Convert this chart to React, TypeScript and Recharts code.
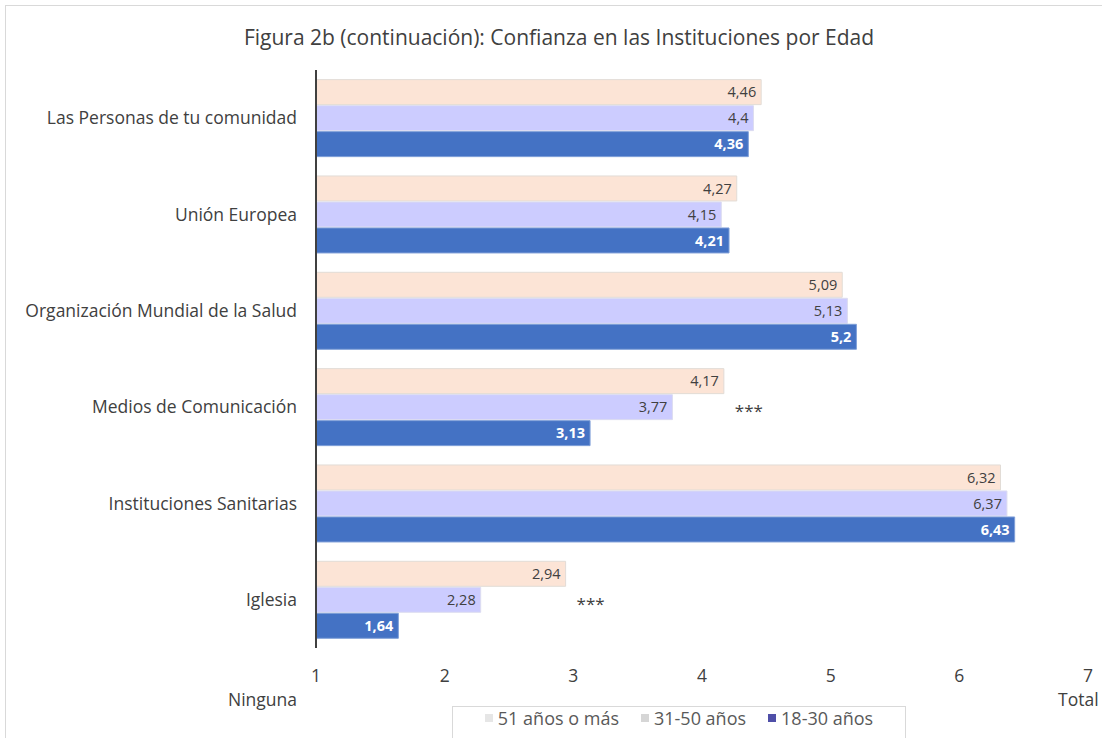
import React from "react";
import { BarChart, Bar, XAxis, YAxis, LabelList } from "recharts";

const categories = [
  "Las Personas de tu comunidad",
  "Unión Europea",
  "Organización Mundial de la Salud",
  "Medios de Comunicación",
  "Instituciones Sanitarias",
  "Iglesia",
];
const age51 = [4.46, 4.27, 5.09, 4.17, 6.32, 2.94];
const age31 = [4.4, 4.15, 5.13, 3.77, 6.37, 2.28];
const age18 = [4.36, 4.21, 5.2, 3.13, 6.43, 1.64];
const significance = ["", "", "", "***", "", "***"];
const xTicks = [1, 2, 3, 4, 5, 6, 7];

const seriesNames = ["51 años o más", "31-50 años", "18-30 años"];
const seriesColors = ["#FCE4D6", "#CCCCFF", "#4472C4"];
const legendIconColors = ["#e6e6e6", "#d6d6d6", "#4F4FA8"];

const data = categories.map((name, i) => ({
  name,
  a51: age51[i],
  a31: age31[i],
  a18: age18[i],
  sig: significance[i],
}));

const FONT = "'Open Sans', sans-serif";
const fmt = (v: any) => String(v).replace(".", ",");

const SigLabel = (props: any) => {
  const { x, y, width, height, index } = props;
  const s = significance[index];
  if (!s) return null;
  const cy = y + height + 1 + height / 2;
  return (
    <text x={x + width + 11} y={cy + 10} fontSize={17} fill="#404040" fontFamily={FONT}>
      {s}
    </text>
  );
};

export default function App() {
  return (
    <div
      style={{
        position: "absolute",
        left: 0,
        top: 0,
        width: 1102,
        height: 738,
        overflow: "hidden",
        background: "#fff",
        fontFamily: FONT,
      }}
    >
      <div
        style={{
          position: "absolute",
          left: 5,
          top: 5,
          width: 1120,
          height: 760,
          border: "1px solid #d9d9d9",
          boxSizing: "border-box",
        }}
      />
      <div
        style={{
          position: "absolute",
          left: 0,
          width: 1118,
          top: 22,
          textAlign: "center",
          fontSize: 21,
          color: "#404040",
          lineHeight: "30px",
        }}
      >
        Figura 2b (continuación): Confianza en las Instituciones por Edad
      </div>
      <div style={{ position: "absolute", left: 0, top: 0 }}>
        <BarChart
          width={1102}
          height={738}
          data={data}
          layout="vertical"
          margin={{ top: 70, right: 14, bottom: 60, left: 0 }}
          barCategoryGap="10%"
          barGap={1}
        >
          <XAxis
            type="number"
            domain={[1, 7]}
            ticks={xTicks}
            axisLine={false}
            tickLine={false}
            height={30}
            tickMargin={16}
            tick={{ fontSize: 17.5, fill: "#404040", fontFamily: FONT }}
          />
          <YAxis
            type="category"
            dataKey="name"
            width={316}
            tickLine={false}
            tickMargin={13}
            axisLine={{ stroke: "#404040", strokeWidth: 2 }}
            tick={{ fontSize: 17.5, fill: "#404040", fontFamily: FONT }}
          />
          <Bar dataKey="a51" name={seriesNames[0]} fill={seriesColors[0]} stroke="#e2dcd6" strokeWidth={1} isAnimationActive={false}>
            <LabelList dataKey="a51" position="insideRight" offset={5} formatter={fmt} style={{ fontSize: 14.5, fill: "#404040", fontFamily: FONT }} />
            <LabelList dataKey="sig" content={SigLabel} />
          </Bar>
          <Bar dataKey="a31" name={seriesNames[1]} fill={seriesColors[1]} stroke="#dcdcf0" strokeWidth={1} isAnimationActive={false}>
            <LabelList dataKey="a31" position="insideRight" offset={5} formatter={fmt} style={{ fontSize: 14.5, fill: "#404040", fontFamily: FONT }} />
          </Bar>
          <Bar dataKey="a18" name={seriesNames[2]} fill={seriesColors[2]} stroke="#7f9fd8" strokeWidth={1} isAnimationActive={false}>
            <LabelList dataKey="a18" position="insideRight" offset={5} formatter={fmt} style={{ fontSize: 14.5, fill: "#ffffff", fontWeight: 700, fontFamily: FONT }} />
          </Bar>
        </BarChart>
      </div>
      <div style={{ position: "absolute", right: 1102 - 297, top: 688, fontSize: 17.5, color: "#404040", lineHeight: "22px" }}>
        Ninguna
      </div>
      <div style={{ position: "absolute", left: 1058, top: 688, fontSize: 17.5, color: "#404040", lineHeight: "22px" }}>
        Total
      </div>
      <div
        style={{
          position: "absolute",
          left: 452,
          top: 706,
          width: 454,
          height: 40,
          border: "1px solid #d9d9d9",
          boxSizing: "border-box",
          display: "flex",
          justifyContent: "center",
          paddingTop: 0,
          fontSize: 18,
          color: "#595959",
        }}
      >
        {seriesNames.map((n, i) => (
          <div key={n} style={{ display: "flex", alignItems: "center", marginRight: i < 2 ? 22 : 0, height: 22 }}>
            <span style={{ display: "inline-block", width: 8, height: 8, background: legendIconColors[i], marginRight: 5 }} />
            <span>{n}</span>
          </div>
        ))}
      </div>
    </div>
  );
}
